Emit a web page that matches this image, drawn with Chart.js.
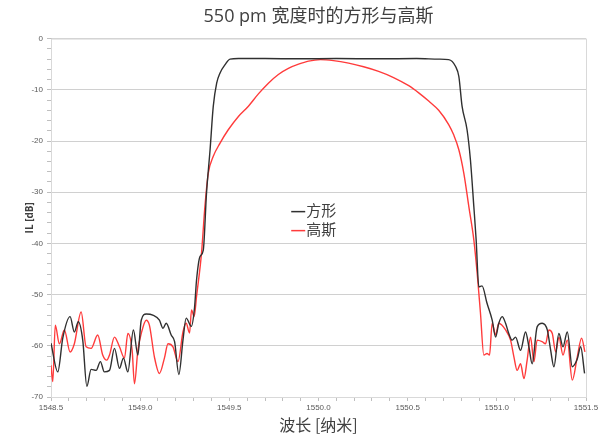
<!DOCTYPE html>
<html>
<head>
<meta charset="utf-8">
<script src="https://cdn.jsdelivr.net/npm/chart.js@4"></script>
<style>
  html, body { margin: 0; padding: 0; background: #fff; }
</style>
</head>
<body>
<canvas id="chart" width="608" height="437"></canvas>
<script>
// 方形 (square) filter, wavelength [nm] / IL [dB]
const squareX = [1548.500, 1548.538, 1548.566, 1548.607, 1548.631, 1548.653, 1548.678, 1548.701, 1548.725, 1548.753,
  1548.777, 1548.799, 1548.828, 1548.856, 1548.884, 1548.906, 1548.931, 1548.962, 1548.987, 1549.006,
  1549.034, 1549.071, 1549.108, 1549.128, 1549.146, 1549.174, 1549.193, 1549.217, 1549.240, 1549.258,
  1549.287, 1549.305, 1549.316, 1549.335, 1549.354, 1549.372, 1549.392, 1549.410, 1549.429, 1549.448,
  1549.476, 1549.504, 1549.551, 1549.700, 1549.888, 1550.100, 1550.337, 1550.550, 1550.674, 1550.730,
  1550.768, 1550.787, 1550.805, 1550.833, 1550.852, 1550.871, 1550.884, 1550.899, 1550.917, 1550.945,
  1550.974, 1550.993, 1551.011, 1551.030, 1551.049, 1551.067, 1551.086, 1551.105, 1551.133, 1551.161,
  1551.180, 1551.198, 1551.226, 1551.254, 1551.283, 1551.302, 1551.320, 1551.348, 1551.371, 1551.395,
  1551.423, 1551.451, 1551.470, 1551.492];
const squareY = [-59.5, -65.1, -58.5, -54.3, -57.3, -55.3, -58.9, -67.9, -64.6, -64.8,
  -63.1, -65.1, -64.8, -60.5, -64.4, -62.4, -65.1, -56.9, -61.8, -55.0,
  -53.8, -54.0, -55.0, -56.6, -55.6, -57.9, -59.2, -65.6, -58.9, -54.6,
  -56.2, -52.5, -47.2, -42.6, -41.3, -30.2, -21.7, -13.2, -8.7, -6.7,
  -5.1, -4.0, -3.9, -3.9, -3.95, -3.9, -3.95, -3.9, -4.0, -4.1,
  -5.4, -7.4, -13.2, -17.8, -23.7, -32.8, -39.3, -48.5, -48.3, -51.7,
  -55.0, -58.3, -55.6, -54.3, -55.6, -57.6, -58.9, -58.3, -60.9, -57.3,
  -60.2, -63.5, -56.3, -55.6, -56.9, -60.9, -64.1, -57.6, -60.2, -57.3,
  -64.1, -62.6, -60.2, -65.4];

// 高斯 (Gaussian) filter
const gaussX = [1548.500, 1548.510, 1548.524, 1548.547, 1548.575, 1548.607, 1548.631, 1548.669, 1548.697, 1548.725,
  1548.762, 1548.790, 1548.813, 1548.828, 1548.856, 1548.884, 1548.912, 1548.931, 1548.955, 1548.968,
  1548.987, 1549.006, 1549.034, 1549.052, 1549.080, 1549.108, 1549.136, 1549.156, 1549.184, 1549.212,
  1549.240, 1549.258, 1549.277, 1549.288, 1549.303, 1549.316, 1549.344, 1549.363, 1549.382, 1549.410,
  1549.448, 1549.494, 1549.551, 1549.607, 1549.663, 1549.719, 1549.775, 1549.831, 1549.888, 1549.944,
  1550.011, 1550.084, 1550.169, 1550.253, 1550.337, 1550.421, 1550.506, 1550.562, 1550.618, 1550.674,
  1550.730, 1550.758, 1550.787, 1550.815, 1550.843, 1550.871, 1550.890, 1550.908, 1550.927, 1550.945,
  1550.959, 1550.974, 1550.993, 1551.011, 1551.049, 1551.077, 1551.096, 1551.114, 1551.133, 1551.152,
  1551.170, 1551.189, 1551.208, 1551.226, 1551.254, 1551.273, 1551.292, 1551.311, 1551.330, 1551.348,
  1551.371, 1551.395, 1551.423, 1551.451, 1551.475, 1551.494];
const gaussY = [-63.8, -67.0, -56.0, -59.6, -56.9, -61.2, -59.6, -53.4, -60.2, -60.5,
  -57.9, -61.8, -62.8, -61.8, -58.3, -60.2, -62.4, -57.6, -60.9, -67.4,
  -60.9, -57.6, -55.0, -56.0, -62.2, -65.4, -62.4, -59.6, -60.2, -63.1,
  -57.3, -55.6, -57.5, -53.0, -54.3, -50.4, -41.9, -32.8, -26.3, -23.0,
  -20.4, -17.8, -15.2, -13.2, -10.8, -8.7, -7.0, -5.8, -5.0, -4.4,
  -4.1, -4.3, -4.8, -5.5, -6.4, -7.6, -9.2, -10.6, -12.2, -14.0,
  -16.8, -18.8, -21.7, -26.3, -32.8, -39.3, -45.9, -53.5, -61.8, -61.5,
  -61.8, -55.6, -57.9, -55.6, -56.9, -58.9, -62.2, -64.8, -63.5, -66.4,
  -62.8, -58.3, -63.1, -58.9, -59.2, -59.6, -56.9, -57.6, -61.2, -58.3,
  -61.8, -58.9, -66.7, -62.2, -58.5, -61.2];

const seriesNames = ['方形', '高斯'];
const xTicks = [1548.5, 1549.0, 1549.5, 1550.0, 1550.5, 1551.0, 1551.5];
const yTicks = [0, -10, -20, -30, -40, -50, -60, -70];

const toPoints = (xs, ys) => xs.map((x, i) => ({ x: x, y: ys[i] }));
const isMajorX = v => xTicks.some(t => Math.abs(t - v) < 1e-6);
const isMajorY = v => yTicks.some(t => Math.abs(t - v) < 1e-6);

// plot frame + in-chart legend
const extrasPlugin = {
  id: 'extras',
  beforeDatasetsDraw(chart) {
    const { ctx, chartArea: a } = chart;
    ctx.save();
    ctx.strokeStyle = '#d9d9d9';
    ctx.lineWidth = 1;
    ctx.strokeRect(a.left + 0.5, a.top + 0.5, a.right - a.left, a.bottom - a.top);
    ctx.restore();
  },
  afterDraw(chart) {
    const { ctx, chartArea: a } = chart;
    const x0 = a.left + (a.right - a.left) * 0.449;
    const y0 = a.top + (a.bottom - a.top) * 0.48;
    ctx.save();
    ctx.font = '15px "Noto Sans CJK SC", sans-serif';
    ctx.textBaseline = 'middle';
    chart.data.datasets.forEach((ds, i) => {
      const y = y0 + i * 19;
      ctx.strokeStyle = ds.borderColor;
      ctx.lineWidth = 1.5;
      ctx.beginPath();
      ctx.moveTo(x0, y + 1);
      ctx.lineTo(x0 + 14, y + 1);
      ctx.stroke();
      ctx.fillStyle = '#404040';
      ctx.fillText(ds.label, x0 + 15, y);
    });
    ctx.restore();
  }
};

const ctx = document.getElementById('chart').getContext('2d');
new Chart(ctx, {
  type: 'line',
  data: {
    datasets: [{
      label: seriesNames[0],
      data: toPoints(squareX, squareY),
      borderColor: '#303030',
      borderWidth: 1.4,
      pointRadius: 0,
      cubicInterpolationMode: 'monotone',
    }, {
      label: seriesNames[1],
      data: toPoints(gaussX, gaussY),
      borderColor: '#ff3b3b',
      borderWidth: 1.4,
      pointRadius: 0,
      cubicInterpolationMode: 'monotone',
    }],
  },
  options: {
    responsive: false,
    animation: false,
    devicePixelRatio: 1,
    layout: { padding: { left: 0, right: 22, top: 0, bottom: 0 } },
    plugins: {
      legend: { display: false },
      tooltip: { enabled: false },
      title: {
        display: true,
        text: '550 pm 宽度时的方形与高斯',
        fullSize: false,
        color: '#404040',
        font: { family: '"Open Sans", "Noto Sans CJK SC", sans-serif', size: 18, weight: 'normal' },
        padding: { top: 6, bottom: 11 },
      },
    },
    scales: {
      x: {
        type: 'linear',
        min: 1548.5,
        max: 1551.5,
        afterFit: s => { s.height = 40; },
        ticks: {
          stepSize: 0.1,
          autoSkip: false,
          maxRotation: 0,
          padding: 2,
          color: '#595959',
          font: { family: '"Liberation Sans Narrow", "Liberation Sans", sans-serif', size: 8 },
          callback: v => isMajorX(v) ? Number(v).toFixed(1) : '',
        },
        grid: { drawOnChartArea: false, tickLength: 4, color: '#bfbfbf' },
        border: { color: '#bfbfbf' },
        title: {
          display: true,
          text: '波长 [纳米]',
          color: '#404040',
          font: { family: '"Noto Sans CJK SC", sans-serif', size: 16 },
          padding: { top: 0, bottom: 2 },
        },
      },
      y: {
        min: -70,
        max: 0,
        afterFit: s => { s.width = 51; },
        ticks: {
          stepSize: 2,
          autoSkip: false,
          padding: 4,
          color: '#595959',
          font: { family: '"Liberation Sans Narrow", "Liberation Sans", sans-serif', size: 8 },
          callback: v => isMajorY(v) ? String(v) : '',
        },
        grid: {
          tickLength: 4,
          color: c => (c.tick && isMajorY(c.tick.value)) ? '#d0d0d0' : 'rgba(0,0,0,0)',
          tickColor: '#bfbfbf',
        },
        border: { color: '#bfbfbf' },
        title: {
          display: true,
          text: 'IL [dB]',
          color: '#404040',
          font: { family: '"Open Sans", sans-serif', size: 10, weight: 'bold' },
          padding: { top: 24, bottom: 0 },
        },
      },
    },
  },
  plugins: [extrasPlugin],
});
</script>
</body>
</html>
